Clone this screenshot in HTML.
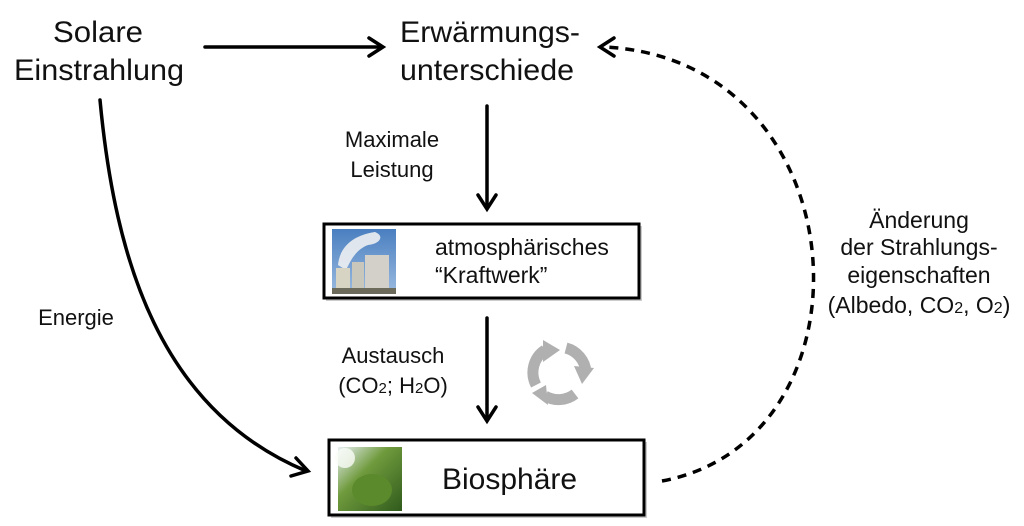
<!DOCTYPE html>
<html><head><meta charset="utf-8"><style>
html,body{margin:0;padding:0;background:#fff;width:1024px;height:526px;overflow:hidden}
text{font-family:"Liberation Sans",sans-serif;fill:#111}
</style></head><body>
<svg width="1024" height="526" viewBox="0 0 1024 526" xmlns="http://www.w3.org/2000/svg">
<defs>
<linearGradient id="sky" x1="0" y1="0" x2="0" y2="1"><stop offset="0" stop-color="#4a7fc0"/><stop offset="1" stop-color="#9bbbe0"/></linearGradient>
<linearGradient id="leaf" x1="0" y1="0" x2="1" y2="1"><stop offset="0" stop-color="#e8f0f4"/><stop offset="0.4" stop-color="#6f9a3c"/><stop offset="1" stop-color="#2f5a1c"/></linearGradient>
</defs>
<text x="98" y="42" font-size="30" text-anchor="middle" textLength="90" lengthAdjust="spacingAndGlyphs">Solare</text>
<text x="99" y="80" font-size="30" text-anchor="middle" textLength="170" lengthAdjust="spacingAndGlyphs">Einstrahlung</text>
<text x="490" y="42" font-size="30" text-anchor="middle" textLength="180" lengthAdjust="spacingAndGlyphs">Erwärmungs-</text>
<text x="487" y="80" font-size="30" text-anchor="middle" textLength="174" lengthAdjust="spacingAndGlyphs">unterschiede</text>
<g stroke="#000" stroke-width="3.5" fill="none" stroke-linecap="round">
<line x1="205" y1="47" x2="382" y2="47"/>
<polyline points="369,38 383,47 369,56"/>
<line x1="487" y1="106" x2="487" y2="208"/>
<polyline points="478,195 487,209 496,195"/>
<line x1="487" y1="318" x2="487" y2="420"/>
<polyline points="478,407 487,421 496,407"/>
<path d="M100,100 C115,260 160,410 306,471"/>
<polyline points="296,458 308,471 291,476"/>
<path d="M662,481 C882,440 862,60 605,47" stroke-dasharray="9,7" stroke-linecap="butt"/>
<polyline points="614,38 600,47 614,56"/>
</g>
<text x="392" y="147" font-size="22" text-anchor="middle">Maximale</text>
<text x="392" y="177" font-size="22" text-anchor="middle">Leistung</text>
<text x="76" y="325" font-size="22" text-anchor="middle">Energie</text>
<text x="393" y="363" font-size="22" text-anchor="middle">Austausch</text>
<text x="393" y="393" font-size="22" text-anchor="middle">(CO<tspan font-size="15">2</tspan>; H<tspan font-size="15">2</tspan>O)</text>
<text x="919" y="228" font-size="23" text-anchor="middle">Änderung</text>
<text x="919" y="255" font-size="23" text-anchor="middle">der Strahlungs-</text>
<text x="919" y="283" font-size="23" text-anchor="middle">eigenschaften</text>
<text x="919" y="313" font-size="23" text-anchor="middle">(Albedo, CO<tspan font-size="16">2</tspan>, O<tspan font-size="16">2</tspan>)</text>
<rect x="326" y="226" width="316" height="75" fill="#999" opacity="0.5"/>
<rect x="324" y="224" width="315" height="74" fill="#fff" stroke="#000" stroke-width="3"/>
<rect x="332" y="229" width="64" height="65" fill="url(#sky)"/>
<path d="M338,265 C340,245 355,235 375,232 C385,236 380,244 368,245 C355,250 350,262 346,270 Z" fill="#eef0f2" opacity="0.9"/>
<rect x="336" y="268" width="14" height="26" fill="#d8d4c4"/>
<rect x="352" y="262" width="12" height="32" fill="#c9c6bb"/>
<rect x="365" y="255" width="24" height="39" fill="#d2d0c8"/>
<rect x="332" y="288" width="64" height="6" fill="#6c6a5a"/>
<text x="435" y="255" font-size="23">atmosphärisches</text>
<text x="435" y="283" font-size="23">“Kraftwerk”</text>
<rect x="331" y="442" width="316" height="76" fill="#999" opacity="0.5"/>
<rect x="329" y="440" width="315" height="75" fill="#fff" stroke="#000" stroke-width="3"/>
<rect x="338" y="447" width="64" height="64" fill="url(#leaf)"/>
<circle cx="345" cy="458" r="10" fill="#fafcf8" opacity="0.8"/>
<ellipse cx="372" cy="490" rx="20" ry="16" fill="#5b8a2c"/>
<text x="442" y="489" font-size="30">Biosphäre</text>
<g fill="none" stroke="#b0b0b0" stroke-width="11">
<path d="M536,385 A27,27 0 0 1 545,350"/>
<path d="M566,348 A27,27 0 0 1 586,372"/>
<path d="M575,394 A27,27 0 0 1 545,396"/>
</g>
<g fill="#b0b0b0">
<polygon points="543,340 560,350 543,362"/>
<polygon points="594,368 582,384 574,366"/>
<polygon points="548,405 532,393 546,385"/>
</g>
</svg>
</body></html>
